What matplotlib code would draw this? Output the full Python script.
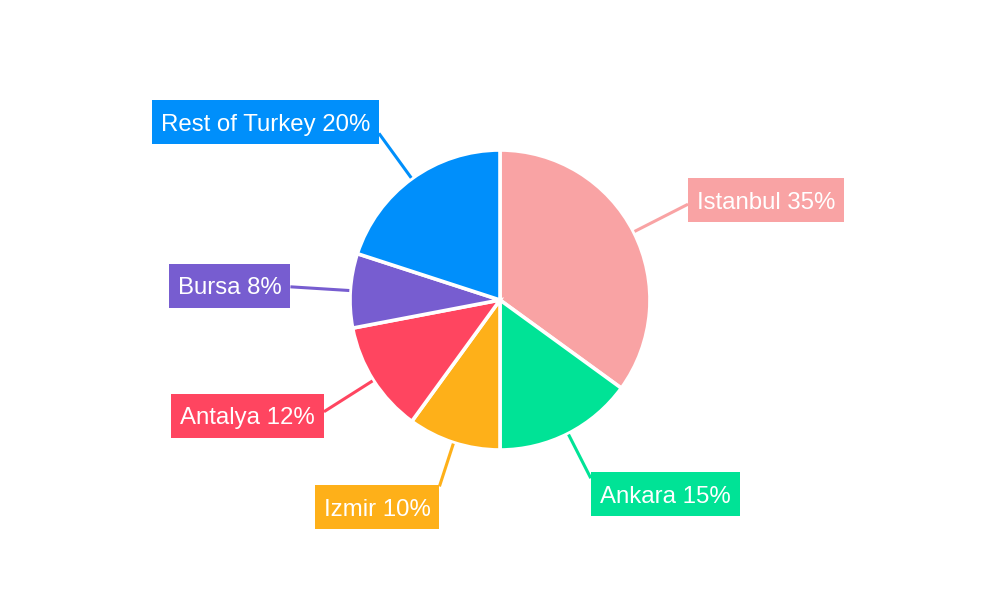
import numpy as np
import matplotlib
matplotlib.use("Agg")
import matplotlib.pyplot as plt
from matplotlib.patches import Rectangle

labels = ["Istanbul", "Ankara", "Izmir", "Antalya", "Bursa", "Rest of Turkey"]
values = [35, 15, 10, 12, 8, 20]
colors = ["#F9A3A4", "#00E396", "#FEB019", "#FF4560", "#775DD0", "#008FFB"]

# layout of the callouts: (leader end radius px, ha, va, dy px)
layout = [
    (211, "left", "center", 4),
    (200, "left", "top", 6),
    (196, "right", "top", 1),
    (208.5, "right", "center", -4),
    (210, "right", "center", 1),
    (206, "right", "center", 11),
]

fig = plt.figure(figsize=(10, 6), dpi=100)
ax = fig.add_axes([0, 0, 1, 1])
cx, cy, R = 500, 300, 150
ax.pie(values, colors=colors, startangle=90, counterclock=False,
       center=(cx, cy), radius=R,
       wedgeprops=dict(edgecolor="white", linewidth=2.6))
ax.set_xlim(0, 1000)
ax.set_ylim(0, 600)
ax.set_aspect("equal")
ax.axis("off")

fs = 17.3  # pt
fs_px = fs * 100 / 72
cap_h = 0.716 * fs_px
hpad = 9
box_h = 44

fig.canvas.draw()
renderer = fig.canvas.get_renderer()

total = sum(values)
cum = 0
for lab, v, col, (r_end, ha, va, dy) in zip(labels, values, colors, layout):
    mid = np.deg2rad(90 - 360 * (cum + v / 2) / total)
    cum += v
    x0, y0 = cx + (R + 1) * np.cos(mid), cy + (R + 1) * np.sin(mid)
    x1, y1 = cx + r_end * np.cos(mid), cy + r_end * np.sin(mid)
    ax.plot([x0, x1], [y0, y1], color=col, lw=2.2, solid_capstyle="butt", zorder=1)
    t = ax.text(0, 0, f"{lab} {v}%", ha="center", va="baseline", color="white",
                fontsize=fs, family="Liberation Sans", zorder=4)
    w = t.get_window_extent(renderer).width + 2 * hpad
    left = x1 if ha == "left" else x1 - w
    if va == "top":
        bottom = y1 + dy - box_h
    else:
        bottom = y1 + dy - box_h / 2
    ax.add_patch(Rectangle((left, bottom), w, box_h, fc=col, ec="none", zorder=3))
    t.set_position((left + w / 2, bottom + box_h / 2 - cap_h / 2))

fig.savefig("out.png", dpi=100, facecolor="white")
